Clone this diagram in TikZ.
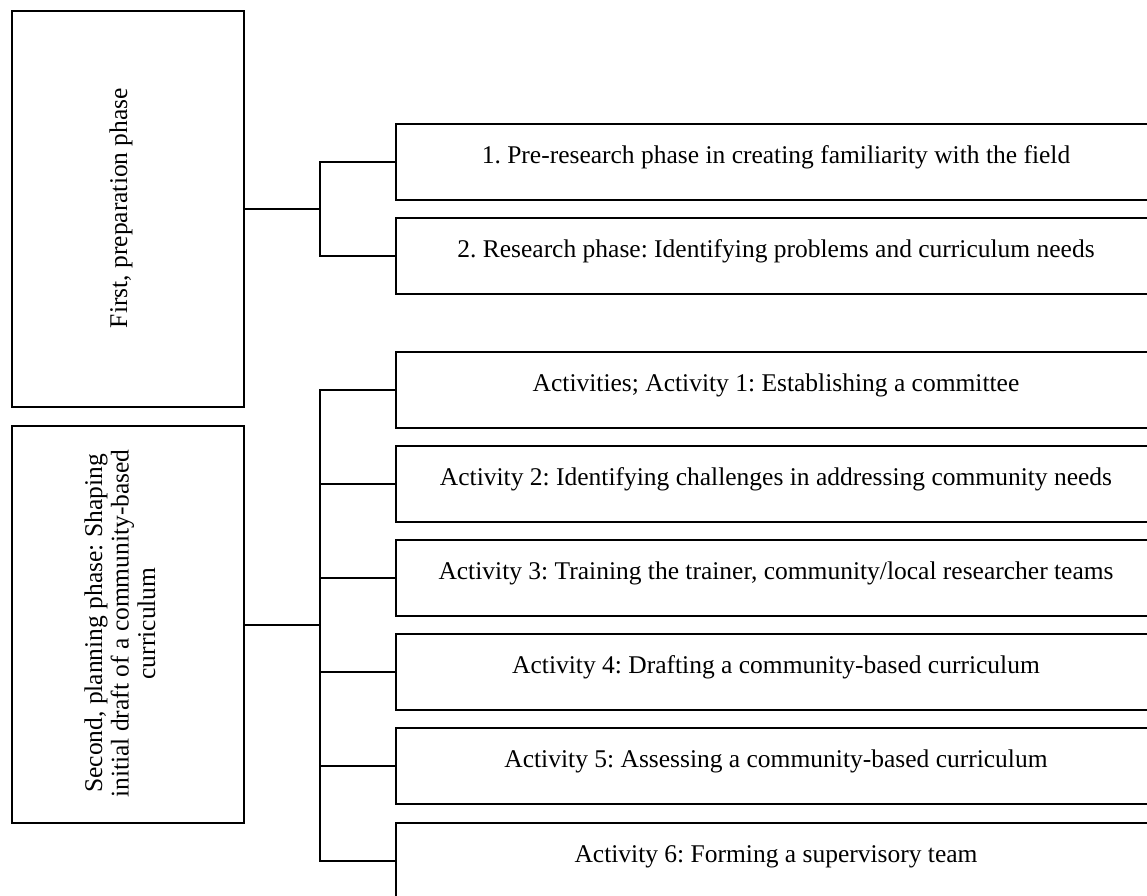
\documentclass[tikz,border=0pt]{standalone}
\usepackage{fontspec}
\setmainfont{Liberation Serif}
\frenchspacing
\begin{document}
\begin{tikzpicture}[x=1pt,y=-1pt,
  box/.style={draw, line width=2.3pt, inner sep=0pt, anchor=north west},
  rbox/.style={box, minimum width=762pt, minimum height=76pt},
  txt/.style={font=\fontsize{25.5}{26.5}\selectfont, inner sep=0pt},
  rtxt/.style={txt, anchor=base},
  conn/.style={line width=2.3pt}]
\useasboundingbox (0,0) rectangle (1147,895);
\clip (0,0) rectangle (1147,895);
% left boxes
\node[box, minimum width=232pt, minimum height=396pt] (b1) at (11,10) {};
\node[box, minimum width=232pt, minimum height=397pt] (b2) at (11,425) {};
\node[txt, rotate=90] (t1) at (121,208) {First, preparation phase};
\node[txt, rotate=90, align=center] (t2) at (120,623.5) {Second, planning phase: Shaping\\initial draft of a community-based\\curriculum};
% right boxes
\node[rbox] (r1) at (395,123) {};
\node[rbox] (r2) at (395,217) {};
\node[rbox] (a1) at (395,351) {};
\node[rbox] (a2) at (395,445) {};
\node[rbox] (a3) at (395,539) {};
\node[rbox] (a4) at (395,633) {};
\node[rbox] (a5) at (395,727) {};
\node[rbox] (a6) at (395,822) {};
\node[rtxt] (tr1) at (776,163) {1. Pre-research phase in creating familiarity with the field};
\node[rtxt] (tr2) at (776,257) {2. Research phase: Identifying problems and curriculum needs};
\node[rtxt] (ta1) at (776,391) {Activities; Activity 1: Establishing a committee};
\node[rtxt] (ta2) at (776,485) {Activity 2: Identifying challenges in addressing community needs};
\node[rtxt] (ta3) at (776,579) {Activity 3: Training the trainer, community/local researcher teams};
\node[rtxt] (ta4) at (776,673) {Activity 4: Drafting a community-based curriculum};
\node[rtxt] (ta5) at (776,767) {Activity 5: Assessing a community-based curriculum};
\node[rtxt] (ta6) at (776,862) {Activity 6: Forming a supervisory team};
% connectors
\path (b1.east) ++(74.5,0) coordinate (j1);
\path (b2.east) ++(74.5,0) coordinate (j2);
\draw[conn] (b1.east) -- (j1);
\draw[conn] (j1) |- (r1.west);
\draw[conn] (j1) |- (r2.west);
\draw[conn] (b2.east) -- (j2);
\foreach \n in {a1,a2,a3,a4,a5,a6}{\draw[conn] (j2) |- (\n.west);}
\end{tikzpicture}
\end{document}
